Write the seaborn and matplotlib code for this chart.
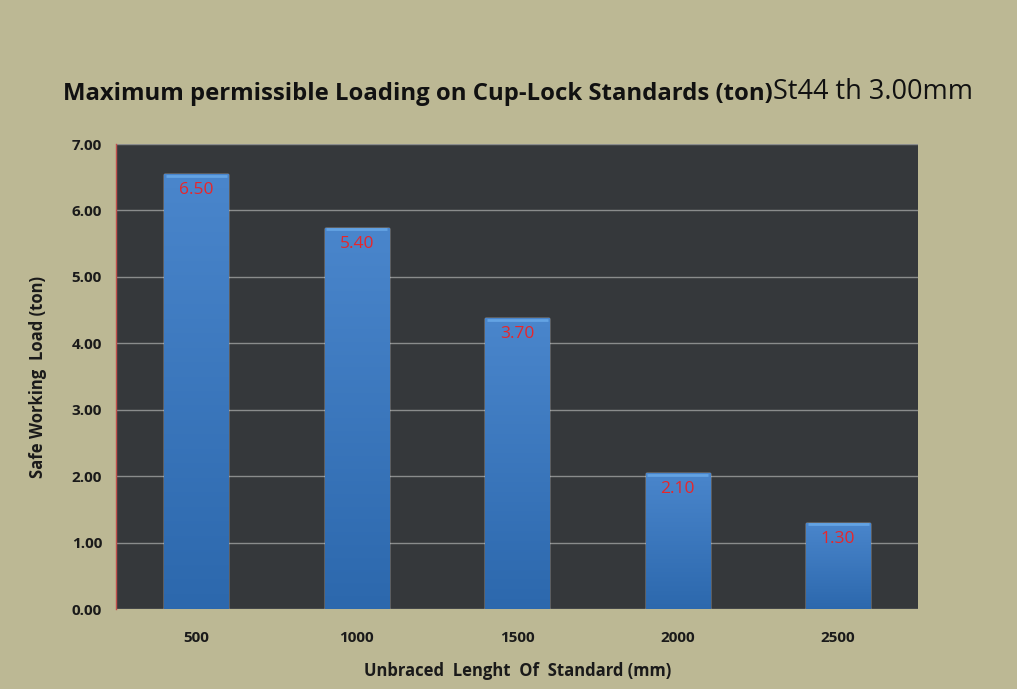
import numpy as np
import pandas as pd
import seaborn as sns
from matplotlib import pyplot as plt
from matplotlib.ticker import FormatStrFormatter

# ---------- DATA ----------
lengths = ['500', '1000', '1500', '2000', '2500']
bar_heights = [6.55, 5.74, 4.38, 2.05, 1.30]
bar_labels = ['6.50', '5.40', '3.70', '2.10', '1.30']

df = pd.DataFrame({'length': lengths, 'load': bar_heights})

# ---------- STYLE ----------
sns.set_style('dark')
plt.rcParams['font.family'] = ['Open Sans', 'DejaVu Sans']

bg = '#bcb894'
plot_bg = '#35383b'
bar_col = '#3b7ac2'

fig = plt.figure(figsize=(10.17, 6.89), dpi=100, facecolor=bg)
ax = fig.add_axes([0.114, 0.116, 0.789, 0.675])
ax.set_facecolor(plot_bg)

sns.barplot(data=df, x='length', y='load', color=bar_col, width=0.4,
            saturation=1, ax=ax, zorder=3)

# vertical gradient on each bar
grad = np.linspace(0, 1, 256).reshape(-1, 1)
cmap = sns.blend_palette(['#2c68ad', '#4a86cc'], as_cmap=True)
for p in ax.patches:
    x0, y0 = p.get_x(), p.get_y()
    w, h = p.get_width(), p.get_height()
    im = ax.imshow(grad, extent=[x0, x0 + w, y0, y0 + h], origin='lower',
                   aspect='auto', cmap=cmap, zorder=4)
    im.set_clip_path(p)
    ax.plot([x0 + 0.01, x0 + w - 0.01], [y0 + h - 0.025, y0 + h - 0.025],
            color='#63a3e3', lw=2, zorder=5, solid_capstyle='butt')

for p, lab in zip(ax.patches, bar_labels):
    ax.text(p.get_x() + p.get_width() / 2, p.get_height() - 0.12, lab,
            ha='center', va='top', color='#e8262a', fontsize=12.5, zorder=6)

ax.set_xlim(-0.5, 4.5)
ax.set_ylim(0, 7)
ax.set_yticks(np.arange(0, 7.01, 1))
ax.yaxis.set_major_formatter(FormatStrFormatter('%.2f'))
ax.grid(axis='y', color='#8a8c8c', lw=1, zorder=1)
ax.grid(axis='x', visible=False)
ax.tick_params(axis='both', length=0, labelsize=11, colors='#1a1a1a', pad=10)
for t in ax.get_xticklabels() + ax.get_yticklabels():
    t.set_fontweight('bold')
ax.tick_params(axis='x', pad=16)

for s in ['top', 'right', 'bottom']:
    ax.spines[s].set_visible(False)
ax.spines['left'].set_color('#c0504d')
ax.spines['left'].set_linewidth(1)

ax.set_xlabel('Unbraced  Lenght  Of  Standard (mm)', fontsize=12,
              fontweight='bold', color='#1a1a1a', labelpad=12)
ax.set_ylabel('Safe Working  Load (ton)', fontsize=12, fontweight='bold',
              color='#1a1a1a', labelpad=18)

t1 = fig.text(0.062, 0.855, 'Maximum permissible Loading on Cup-Lock Standards (ton)',
              fontsize=17.2, fontweight='bold', color='#111111', va='baseline')
ax.annotate('St44 th 3.00mm', xy=(1, 0), xycoords=t1, va='bottom',
            fontsize=19.5, color='#111111')

fig.savefig('out.png', dpi=100, facecolor=bg)
